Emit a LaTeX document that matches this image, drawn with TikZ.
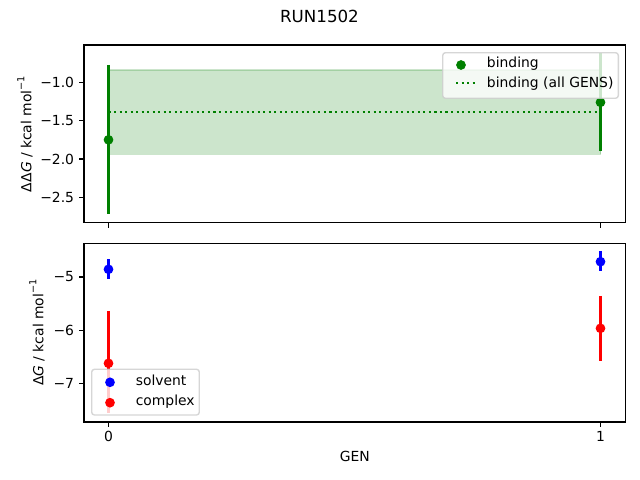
\documentclass[tikz,border=0pt]{standalone}
\usepackage{fontspec}
\setmainfont{DejaVu Sans}
\definecolor{mgreen}{RGB}{0,128,0}
\definecolor{mblue}{RGB}{0,0,255}
\definecolor{mred}{RGB}{255,0,0}
\definecolor{legedge}{RGB}{204,204,204}
\begin{document}
\begin{tikzpicture}[x=0.01in,y=-0.01in,
  spine/.style={draw=black,line width=0.8bp},
  tickmark/.style={line width=0.8bp},
  ticklab/.style={inner sep=0pt,font=\fontsize{10bp}{12bp}\selectfont},
  axlab/.style={inner sep=0pt,font=\fontsize{10bp}{12bp}\selectfont},
  ebar/.style={line width=1.5bp,line cap=butt},
  legframe/.style={fill=white,fill opacity=0.8,draw=legedge,draw opacity=0.8,line width=1bp,rounded corners=2bp},
  legtext/.style={inner sep=0pt,anchor=base west,font=\fontsize{10bp}{12bp}\selectfont}]
\useasboundingbox (0,0) rectangle (640,480);
\fill[white] (0,0) rectangle (640,480);

% ---------- top axes ----------
\fill[mgreen,fill opacity=0.2] (108.5,70) rectangle (600.5,154.3);
\draw[mgreen,draw opacity=0.2,line width=1bp] (108.5,70) rectangle (600.5,154.3);
\draw[mgreen,line width=1.5bp,dash pattern=on 1.5bp off 2.475bp] (108.5,111.7) -- (600.5,111.7);
\draw[mgreen,ebar] (108.5,65) -- (108.5,214.3);
\draw[mgreen,ebar] (600.5,53.2) -- (600.5,151);
\fill[mgreen] (108.5,139.8) circle[radius=3.5bp];
\fill[mgreen] (600.5,102.3) circle[radius=3.5bp];
\draw[spine] (84,45) rectangle (625.5,222.7);
\foreach \yy/\lab in {82.3/−1.0,120.65/−1.5,159/−2.0,197.35/−2.5}{
  \draw[tickmark] (84,\yy) -- (79.14,\yy);
  \node[ticklab,anchor=east] at (74.3,\yy) {\lab};
}
\draw[tickmark] (108.5,222.7) -- (108.5,227.56);
\draw[tickmark] (600.5,222.7) -- (600.5,227.56);
\node[axlab,rotate=90] (ylab1) at (25,134) {ΔΔ\textit{G} / kcal mol\raisebox{0.9ex}{\fontsize{7bp}{8bp}\selectfont −1}};
\draw[legframe] (442.7,52.7) rectangle (618.3,98.3);
\fill[mgreen] (461,65) circle[radius=3.5bp];
\draw[mgreen,line width=1.5bp,dash pattern=on 1.5bp off 2.475bp] (456,83.3) -- (475,83.3);
\node[legtext] (lg1) at (486.7,67.7) {binding};
\node[legtext] (lg2) at (486.7,87.2) {binding (all GENS)};

% ---------- bottom axes ----------
\draw[mblue,ebar] (108.5,259.3) -- (108.5,279.3);
\draw[mred,ebar] (108.5,311) -- (108.5,413.3);
\draw[mblue,ebar] (600.5,251) -- (600.5,270.7);
\draw[mred,ebar] (600.5,296) -- (600.5,360.7);
\fill[mblue] (108.5,269.3) circle[radius=3.5bp];
\fill[mred] (108.5,363.3) circle[radius=3.5bp];
\fill[mblue] (600.5,261.7) circle[radius=3.5bp];
\fill[mred] (600.5,328.3) circle[radius=3.5bp];
\draw[spine] (84,243.3) rectangle (625.5,422);
\foreach \yy/\lab in {277/−5,330.2/−6,383.4/−7}{
  \draw[tickmark] (84,\yy) -- (79.14,\yy);
  \node[ticklab,anchor=east] at (74.3,\yy) {\lab};
}
\draw[tickmark] (108.5,422) -- (108.5,426.86);
\draw[tickmark] (600.5,422) -- (600.5,426.86);
\node[ticklab,anchor=base] (xt0) at (108.5,441.7) {0};
\node[ticklab,anchor=base] (xt1) at (600.5,441.7) {1};
\node[axlab,anchor=base] (xlab) at (354.75,461.7) {GEN};
\node[axlab,rotate=90] (ylab2) at (37,332.7) {Δ\textit{G} / kcal mol\raisebox{0.9ex}{\fontsize{7bp}{8bp}\selectfont −1}};
\draw[legframe] (91.7,369.3) rectangle (199.3,415);
\fill[mblue] (110,382.3) circle[radius=3.5bp];
\fill[mred] (110,402.7) circle[radius=3.5bp];
\node[legtext] (lg3) at (135.5,386) {solvent};
\node[legtext] (lg4) at (135.5,406) {complex};

\node[inner sep=0pt,anchor=base,font=\fontsize{12bp}{14bp}\selectfont] (title) at (319.5,22.7) {RUN1502};
\end{tikzpicture}
\end{document}
